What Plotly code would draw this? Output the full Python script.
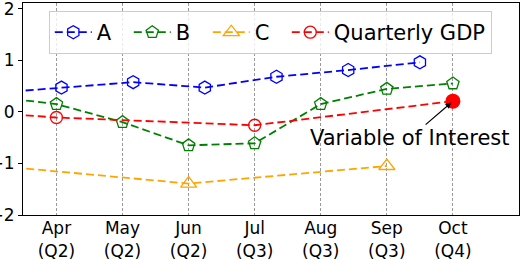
import plotly.graph_objects as go

# ---- data ----
tick_pos = [0, 1, 2, 3, 4, 5, 6]
tick_labels = ["Apr<br>(Q2)", "May<br>(Q2)", "Jun<br>(Q2)", "Jul<br>(Q3)",
               "Aug<br>(Q3)", "Sep<br>(Q3)", "Oct<br>(Q4)"]

a_x = [-1.009, 0.076, 1.161, 2.245, 3.33, 4.415, 5.5]
a_y = [0.36, 0.47, 0.575, 0.47, 0.68, 0.81, 0.96]

b_x = [-1, 0, 1, 2, 3, 4, 5, 6]
b_y = [0.30, 0.15, -0.20, -0.65, -0.61, 0.15, 0.445, 0.55]

c_x = [-1, 2, 5]
c_y = [-1.037, -1.39, -1.05]

gdp_x = [-3, 0, 3, 6]
gdp_y = [0.16, -0.11, -0.26, 0.207]

target_x = [6]
target_y = [0.207]
target_label = "Variable of Interest"

FONT = "DejaVu Sans"
DASH = "8px,4px"

fig = go.Figure()

def add(x, y, name, color, symbol, size=13, lw=None):
    fig.add_trace(go.Scatter(
        x=x, y=y, name=name, mode="lines+markers",
        line=dict(color=color, width=1.8, dash=DASH),
        marker=dict(symbol=symbol, size=size, color=color,
                    line=dict(color=color, width=1.3)),
        legendwidth=lw,
    ))

add(a_x, a_y, "A", "#0000ff", "hexagon-open")
add(b_x, b_y, "B", "#008000", "pentagon-open")
add(c_x, c_y, "C", "#ffa500", "triangle-up-open", size=14)
add(gdp_x, gdp_y, "Quarterly GDP", "#ff0000", "circle-open", size=12, lw=152)

fig.add_trace(go.Scatter(
    x=target_x, y=target_y, mode="markers", showlegend=False,
    marker=dict(symbol="circle", size=15, color="#ff0000",
                line=dict(color="#ff0000", width=0)),
))

fig.add_annotation(
    x=target_x[0], y=target_y[0], text=target_label,
    showarrow=True, ax=-43, ay=37, axref="pixel", ayref="pixel",
    arrowhead=2, arrowsize=1, arrowwidth=1.2, arrowcolor="black",
    standoff=2, font=dict(family=FONT, size=21, color="black"),
)

fig.update_layout(
    width=520, height=260,
    margin=dict(l=23, r=1, t=3, b=45, autoexpand=False),
    paper_bgcolor="white", plot_bgcolor="white",
    font=dict(family=FONT, color="black"),
    legend=dict(
        orientation="h", x=0.052, y=0.962, xanchor="left", yanchor="top",
        bgcolor="rgba(255,255,255,0.8)", bordercolor="#cccccc", borderwidth=1,
        font=dict(family=FONT, size=21, color="black"),
        itemwidth=37, entrywidth=27,
    ),
    xaxis=dict(
        range=[-0.506, 7.0], tickmode="array", tickvals=tick_pos,
        ticktext=tick_labels, tickfont=dict(family=FONT, size=17),
        showgrid=True, gridcolor="#999999", griddash="3px,2px", gridwidth=1,
        zeroline=False, showline=True, linecolor="black", linewidth=1,
        mirror=True, ticks="", automargin=False, ticklabelstandoff=-2,
    ),
    yaxis=dict(
        range=[-2, 2.11], tickvals=[-2, -1, 0, 1, 2],
        ticktext=["\u22122", "\u22121", "0", "1", "2"],
        tickfont=dict(family=FONT, size=17), automargin=False,
        ticklabeloverflow="allow",
        showgrid=False, zeroline=False, showline=True, linecolor="black",
        linewidth=1, mirror=True, ticks="outside", ticklen=4, tickcolor="black",
    ),
)

fig.write_html("out.html", config={"displayModeBar": False},
               post_script="document.body.style.margin='0px';")
